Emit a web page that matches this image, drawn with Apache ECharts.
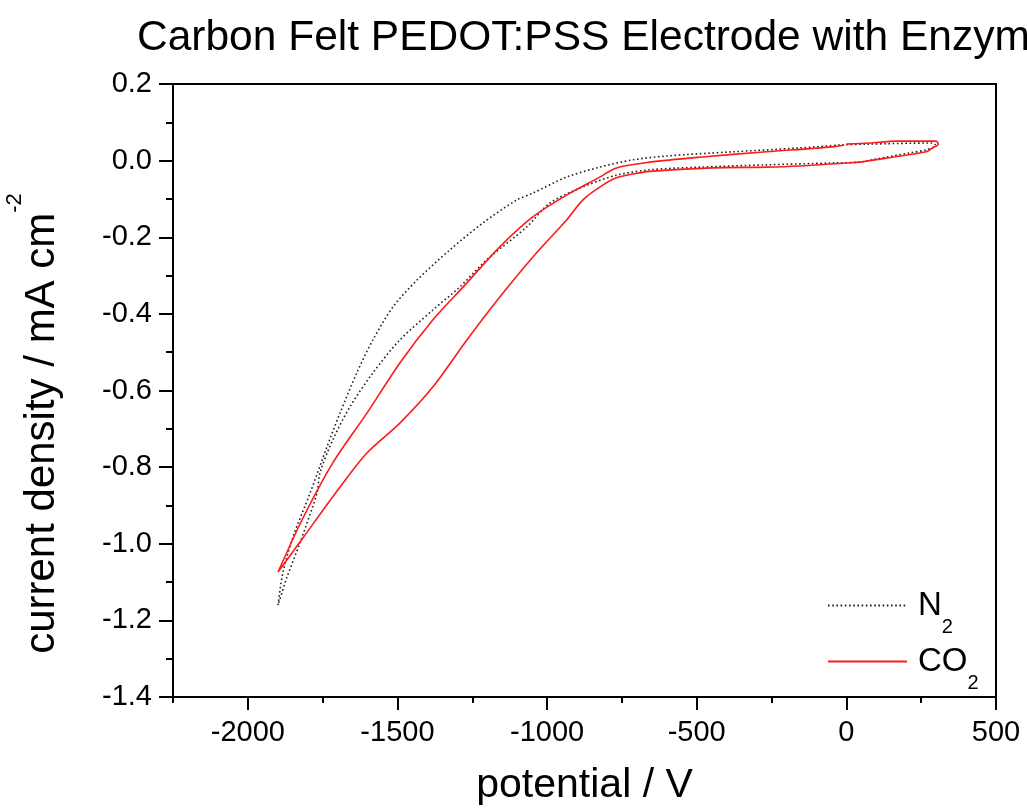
<!DOCTYPE html>
<html>
<head>
<meta charset="utf-8">
<script src="https://cdn.jsdelivr.net/npm/echarts@6/dist/echarts.min.js"></script>
<style>html,body{margin:0;padding:0;background:#fff;}#c{width:1027px;height:810px;}</style>
</head>
<body>
<div id="c"></div>
<script>
// ---- data ----
const xMajorTicks = [-2000, -1500, -1000, -500, 0, 500];
const xMinorTicks = [-2250, -1750, -1250, -750, -250, 250];

const n2Potential = [-1899,-1883,-1849,-1792,-1736,-1692,-1636,-1582,-1515,-1435,-1325,-1215,-1102,-1048,-935,-824,-714,-601,-381,-157,-13,67,287,297,294,267,210,100,43,-47,-267,-491,-657,-768,-881,-991,-1068,-1202,-1292,-1382,-1492,-1582,-1659,-1716,-1759,-1769,-1826,-1869,-1899];
const n2Current = [-1.160,-1.076,-0.982,-0.868,-0.748,-0.659,-0.554,-0.468,-0.382,-0.312,-0.233,-0.163,-0.103,-0.085,-0.043,-0.017,0.002,0.012,0.023,0.033,0.041,0.043,0.046,0.041,0.036,0.028,0.020,0.004,-0.004,-0.006,-0.011,-0.017,-0.024,-0.038,-0.069,-0.111,-0.173,-0.259,-0.330,-0.390,-0.468,-0.554,-0.643,-0.729,-0.815,-0.868,-0.998,-1.087,-1.160];

const co2Potential = [0,77,167,300,307,287,267,154,43,0,-157,-267,-447,-657,-714,-768,-824,-881,-935,-1048,-1158,-1268,-1382,-1492,-1602,-1692,-1816,-1899,-1819,-1716,-1602,-1492,-1382,-1268,-1158,-1048,-935,-824,-768,-657,-491,-267,-47,-7];
const co2Current = [0.043,0.046,0.051,0.051,0.043,0.033,0.023,0.009,-0.004,-0.006,-0.014,-0.017,-0.019,-0.028,-0.035,-0.045,-0.069,-0.103,-0.155,-0.252,-0.356,-0.468,-0.591,-0.685,-0.763,-0.852,-0.985,-1.074,-0.938,-0.789,-0.659,-0.528,-0.416,-0.319,-0.225,-0.147,-0.090,-0.043,-0.019,-0.004,0.009,0.023,0.036,0.041];

const zip = (a, b) => a.map((v, i) => [v, b[i]]);
const FONT = 'Liberation Sans, Arial, sans-serif';

const chart = echarts.init(document.getElementById('c'), null, {renderer: 'canvas'});
chart.setOption({
  animation: false,
  backgroundColor: '#fff',
  title: {
    text: 'Carbon Felt PEDOT:PSS Electrode with Enzyme',
    left: 132, top: 12,
    textStyle: {fontFamily: FONT, fontSize: 42.5, fontWeight: 'normal', color: '#000'}
  },
  grid: {left: 173, right: 31, top: 84, bottom: 113, containLabel: false, outerBoundsMode: 'none',
         show: true, borderColor: '#000', borderWidth: 2, backgroundColor: 'transparent'},
  legend: {
    orient: 'vertical', left: 822, top: 584,
    itemWidth: 79, itemHeight: 4, itemGap: 8,
    data: ['N2', 'CO2'],
    itemStyle: {opacity: 0},
    formatter: function (name) {
      return name === 'N2' ? '{m|N}{s|2}' : '{m|CO}{s|2}';
    },
    textStyle: {
      fontFamily: FONT, color: '#000',
      rich: {
        m: {fontFamily: FONT, fontSize: 33, color: '#000', verticalAlign: 'middle', padding: [0, 0, 0, 6]},
        s: {fontFamily: FONT, fontSize: 20, lineHeight: 20, color: '#000', verticalAlign: 'top', padding: [28, 0, 0, 0]}
      }
    }
  },
  xAxis: [{
    type: 'value', min: -2250, max: 500,
    name: 'potential / V', nameLocation: 'middle', nameGap: 68,
    nameTextStyle: {fontFamily: FONT, fontSize: 41, color: '#000'},
    axisLine: {show: true, onZero: false, lineStyle: {color: '#000', width: 2}},
    axisTick: {show: true, customValues: xMajorTicks, length: 13, lineStyle: {color: '#000', width: 2}},
    axisLabel: {customValues: xMajorTicks, fontFamily: FONT, fontSize: 29, color: '#000', margin: 21, formatter: v => String(v)},
    splitLine: {show: false}
  }, {
    type: 'value', min: -2250, max: 500, position: 'bottom',
    axisLine: {show: false, onZero: false},
    axisTick: {show: true, customValues: xMinorTicks, length: 6, lineStyle: {color: '#000', width: 2}},
    axisLabel: {show: false},
    splitLine: {show: false}
  }],
  yAxis: {
    type: 'value', min: -1.4, max: 0.2, interval: 0.2,
    name: 'current density / mA cm{sup|-2}', nameLocation: 'middle', nameGap: 107,
    nameTextStyle: {
      fontFamily: FONT, fontSize: 42, color: '#000', lineHeight: 48, padding: [0, 66, 0, 0],
      rich: {sup: {fontFamily: FONT, fontSize: 22, lineHeight: 22, color: '#000', padding: [0, 0, 54, 0]}}
    },
    axisLine: {show: true, onZero: false, lineStyle: {color: '#000', width: 2}},
    axisTick: {show: true, length: 14, lineStyle: {color: '#000', width: 2}},
    minorTick: {show: true, splitNumber: 2, length: 7, lineStyle: {color: '#000', width: 2}},
    axisLabel: {fontFamily: FONT, fontSize: 29, color: '#000', margin: 21, formatter: v => v.toFixed(1)},
    splitLine: {show: false}, minorSplitLine: {show: false}
  },
  series: [{
    name: 'N2', type: 'line', xAxisIndex: 0, data: zip(n2Potential, n2Current),
    showSymbol: false, symbol: 'none', smooth: 0.3,
    lineStyle: {color: '#222', width: 1.6, type: [1.6, 2.6]}, itemStyle: {color: '#222'}
  }, {
    name: 'CO2', type: 'line', xAxisIndex: 0, data: zip(co2Potential, co2Current),
    showSymbol: false, symbol: 'none', smooth: 0.3,
    lineStyle: {color: '#ff1a1a', width: 1.6}, itemStyle: {color: '#ff1a1a'}
  }]
});
</script>
</body>
</html>
